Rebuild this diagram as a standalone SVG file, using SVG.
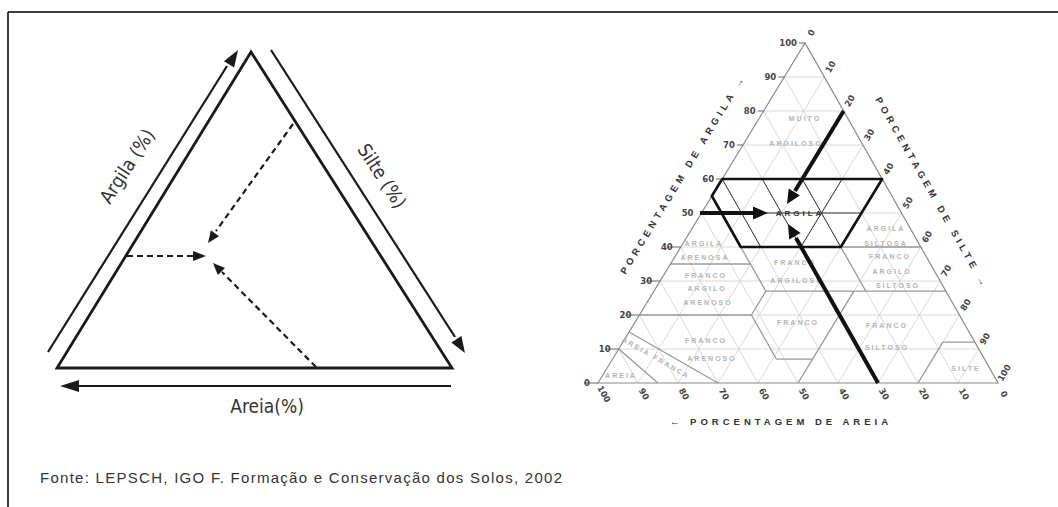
<svg xmlns="http://www.w3.org/2000/svg" width="1058" height="507" viewBox="0 0 1058 507">
<style>
.frame{stroke:#000;stroke-width:1.5;fill:none}
.tri{stroke:#1a1a1a;stroke-width:2.8;fill:none;stroke-linejoin:miter}
.ln{stroke:#1a1a1a;stroke-width:2.2;fill:none}
.dash{stroke:#1a1a1a;stroke-width:2.2;fill:none;stroke-dasharray:6 4}
.head{fill:#1a1a1a}
.big{font-family:"DejaVu Sans","Liberation Sans",sans-serif;font-stretch:condensed;font-size:19px;fill:#333}
.grid{stroke:#cfcfcf;stroke-width:0.8;fill:none}
.bound{stroke:#9a9a9a;stroke-width:1.3;fill:none}
.outline{stroke:#8a8a8a;stroke-width:1.2;fill:none}
.ingrid{stroke:#222;stroke-width:0.9;fill:none}
.thick{stroke:#111;stroke-width:2.6;fill:none;stroke-linejoin:round}
.arr{stroke:#111;stroke-width:4;fill:none}
.ah{fill:#111}
.tick{font-family:"DejaVu Sans","Liberation Sans",sans-serif;font-weight:bold;font-size:8.5px;fill:#444}
.tk{stroke:#666;stroke-width:1}
.cls{font-family:"Liberation Sans",sans-serif;font-weight:bold;font-size:7px;fill:#b4b4b4;letter-spacing:2px;text-anchor:middle}
.main{font-family:"Liberation Sans",sans-serif;font-weight:bold;font-size:8px;fill:#333;letter-spacing:3px;text-anchor:middle}
.axt{font-family:"Liberation Sans",sans-serif;font-weight:bold;font-size:9.5px;fill:#333;letter-spacing:4px;text-anchor:middle}
.foot{font-family:"Liberation Sans",sans-serif;font-size:15px;fill:#333}
</style>
<defs>
<clipPath id="argclip"><polygon points="722.2,179 882.2,179 840.8,247 740.8,247 711.85,196"/></clipPath>
</defs>
<rect width="1058" height="507" fill="#fff"/>
<path class="frame" d="M8,12H1058M8,12V507"/>

<!-- LEFT schematic triangle -->
<g id="left-triangle">
<polygon class="tri" points="251,52 57,368 452,368"/>
</g>
<g id="connectors">
<line class="ln" x1="48" y1="352" x2="227" y2="66"/>
<polygon class="head" points="238,50 234.1,67.5 223.9,61.2"/>
<line class="ln" x1="271" y1="50" x2="455" y2="337"/>
<polygon class="head" points="465,353 461.4,336 451.3,342.5"/>
<line class="ln" x1="451" y1="386" x2="74" y2="386"/>
<polygon class="head" points="60,386 79,380 79,392"/>
<line class="dash" x1="127" y1="256" x2="195" y2="256"/>
<polygon class="head" points="206,256 193,251 193,261"/>
<line class="dash" x1="293" y1="124" x2="216" y2="231"/>
<polygon class="head" points="208,243 219.05,236.14 210.91,230.32"/>
<line class="dash" x1="316" y1="367" x2="222" y2="272"/>
<polygon class="head" points="213,263 224.99,268 217.89,275.04"/>
</g>
<g id="left-labels">
<text class="big" text-anchor="middle" dy="0.35em" transform="translate(127,166) rotate(-57)">Argila (%)</text>
<text class="big" text-anchor="middle" dy="0.35em" transform="translate(382,176) rotate(57)">Silte (%)</text>
<text class="big" text-anchor="middle" x="267" y="413">Areia(%)</text>
</g>

<!-- RIGHT textural triangle -->
<g id="texture-triangle">
<path class="grid" d="M618.7,349H978.7M639.4,315H959.4M660.1,281H940.1M680.8,247H920.8M701.5,213H901.5M722.2,179H882.2M742.9,145H862.9M763.6,111H843.6M784.3,77H824.3
M638,383L824.3,77M678,383L843.6,111M718,383L862.9,145M758,383L882.2,179M798,383L901.5,213M838,383L920.8,247M878,383L940.1,281M918,383L959.4,315M958,383L978.7,349
M958,383L784.3,77M918,383L763.6,111M878,383L742.9,145M838,383L722.2,179M798,383L701.5,213M758,383L680.8,247M718,383L660.1,281M678,383L639.4,315M638,383L618.7,349"/>
<path class="bound" d="M840.8,247H920.8M670.45,264H750.45M740.8,247L765.9,291.2M765.9,291.2H945.9M840.8,247L865.9,291.2M639.4,315H751.4M751.4,315L765.9,291.2M751.4,315L776.5,359.2M776.5,359.2H812.5M798,383L853.9,291.2M629.05,332L718,383M618.7,349L658,383M918,383L942.84,342.2M942.84,342.2H974.84"/>
<path class="outline" d="M598,383L805,43L998,383Z"/>
<g clip-path="url(#argclip)">
<path class="ingrid" d="M701.5,213H901.5M758,383L882.2,179M798,383L901.5,213M838,383L920.8,247M878,383L742.9,145M838,383L722.2,179M798,383L701.5,213M718,383L862.9,145M918,383L763.6,111"/>
</g>
<polygon class="thick" points="722.2,179 882.2,179 840.8,247 740.8,247 711.85,196"/>
<path class="tk" d="M584,383H598M604.7,349H618.7M625.4,315H639.4M646.1,281H660.1M666.8,247H680.8M716.2,179H722.2M736.9,145H742.9M757.6,111H763.6M778.3,77H784.3M799,43H805"/>
</g>

<g id="tick-labels">
<text class="tick" text-anchor="end" x="590" y="386">0</text>
<text class="tick" text-anchor="end" x="610.7" y="352">10</text>
<text class="tick" text-anchor="end" x="631.4" y="318">20</text>
<text class="tick" text-anchor="end" x="652.1" y="284">30</text>
<text class="tick" text-anchor="end" x="672.8" y="250">40</text>
<text class="tick" text-anchor="end" x="693.5" y="216">50</text>
<text class="tick" text-anchor="end" x="714.2" y="182">60</text>
<text class="tick" text-anchor="end" x="734.9" y="148">70</text>
<text class="tick" text-anchor="end" x="755.6" y="114">80</text>
<text class="tick" text-anchor="end" x="776.3" y="80">90</text>
<text class="tick" text-anchor="end" x="797" y="46">100</text>

<text class="tick" text-anchor="middle" dy="0.35em" transform="translate(811.2,32.8) rotate(-58.7)">0</text>
<text class="tick" text-anchor="middle" dy="0.35em" transform="translate(830.5,66.8) rotate(-58.7)">10</text>
<text class="tick" text-anchor="middle" dy="0.35em" transform="translate(849.8,100.8) rotate(-58.7)">20</text>
<text class="tick" text-anchor="middle" dy="0.35em" transform="translate(869.1,134.8) rotate(-58.7)">30</text>
<text class="tick" text-anchor="middle" dy="0.35em" transform="translate(888.4,168.8) rotate(-58.7)">40</text>
<text class="tick" text-anchor="middle" dy="0.35em" transform="translate(907.7,202.8) rotate(-58.7)">50</text>
<text class="tick" text-anchor="middle" dy="0.35em" transform="translate(927,236.8) rotate(-58.7)">60</text>
<text class="tick" text-anchor="middle" dy="0.35em" transform="translate(946.3,270.8) rotate(-58.7)">70</text>
<text class="tick" text-anchor="middle" dy="0.35em" transform="translate(965.6,304.8) rotate(-58.7)">80</text>
<text class="tick" text-anchor="middle" dy="0.35em" transform="translate(984.9,338.8) rotate(-58.7)">90</text>
<text class="tick" text-anchor="middle" dy="0.35em" transform="translate(1004.2,372.8) rotate(-58.7)">100</text>

<text class="tick" text-anchor="middle" dy="0.35em" transform="translate(604,394) rotate(60.4)">100</text>
<text class="tick" text-anchor="middle" dy="0.35em" transform="translate(644,394) rotate(60.4)">90</text>
<text class="tick" text-anchor="middle" dy="0.35em" transform="translate(684,394) rotate(60.4)">80</text>
<text class="tick" text-anchor="middle" dy="0.35em" transform="translate(724,394) rotate(60.4)">70</text>
<text class="tick" text-anchor="middle" dy="0.35em" transform="translate(764,394) rotate(60.4)">60</text>
<text class="tick" text-anchor="middle" dy="0.35em" transform="translate(804,394) rotate(60.4)">50</text>
<text class="tick" text-anchor="middle" dy="0.35em" transform="translate(844,394) rotate(60.4)">40</text>
<text class="tick" text-anchor="middle" dy="0.35em" transform="translate(884,394) rotate(60.4)">30</text>
<text class="tick" text-anchor="middle" dy="0.35em" transform="translate(924,394) rotate(60.4)">20</text>
<text class="tick" text-anchor="middle" dy="0.35em" transform="translate(964,394) rotate(60.4)">10</text>
<text class="tick" text-anchor="middle" dy="0.35em" transform="translate(1004,394) rotate(60.4)">0</text>
</g>

<g id="axis-titles">
<text class="axt" dy="0.35em" transform="translate(683,174) rotate(-58.7)">PORCENTAGEM DE ARGILA →</text>
<text class="axt" dy="0.35em" transform="translate(932,193) rotate(60.4)">PORCENTAGEM DE SILTE →</text>
<text class="axt" x="781" y="425">← PORCENTAGEM DE AREIA</text>
</g>

<g id="class-labels">
<text class="cls" x="805" y="121">MUITO</text>
<text class="cls" x="796" y="146">ARGILOSO</text>
<text class="cls" x="886" y="231">ARGILA</text>
<text class="cls" x="886" y="246">SILTOSA</text>
<text class="cls" x="890" y="259">FRANCO</text>
<text class="cls" x="892" y="274">ARGILO</text>
<text class="cls" x="898" y="288">SILTOSO</text>
<text class="cls" x="704" y="246">ARGILA</text>
<text class="cls" x="705" y="260">ARENOSA</text>
<text class="cls" x="706" y="278">FRANCO</text>
<text class="cls" x="707" y="291">ARGILO</text>
<text class="cls" x="708" y="305">ARENOSO</text>
<text class="cls" x="795" y="265">FRANCO</text>
<text class="cls" x="797" y="283">ARGILOSO</text>
<text class="cls" x="798" y="325">FRANCO</text>
<text class="cls" x="887" y="328">FRANCO</text>
<text class="cls" x="887" y="350">SILTOSO</text>
<text class="cls" x="966" y="371">SILTE</text>
<text class="cls" x="706" y="343">FRANCO</text>
<text class="cls" x="712" y="361">ARENOSO</text>
<text class="cls" x="621" y="378">AREIA</text>
<text class="cls" dy="0.35em" transform="translate(656,358) rotate(30)">AREIA FRANCA</text>
<text class="main" x="800" y="216">ARGILA</text>
</g>

<g id="arrows-right">
<line class="arr" x1="700" y1="213" x2="756" y2="213"/>
<polygon class="ah" points="768,213 753,206.5 753,219.5"/>
<line class="arr" x1="843.6" y1="111" x2="795" y2="191"/>
<polygon class="ah" points="787,204 799.9,195.5 788.7,188.6"/>
<line class="arr" x1="878" y1="383" x2="796" y2="238"/>
<polygon class="ah" points="788,224 800.6,233 789.2,239.4"/>
</g>

<text id="footer" class="foot" x="40" y="483" textLength="522">Fonte: LEPSCH, IGO F. Formação e Conservação dos Solos, 2002</text>
</svg>
